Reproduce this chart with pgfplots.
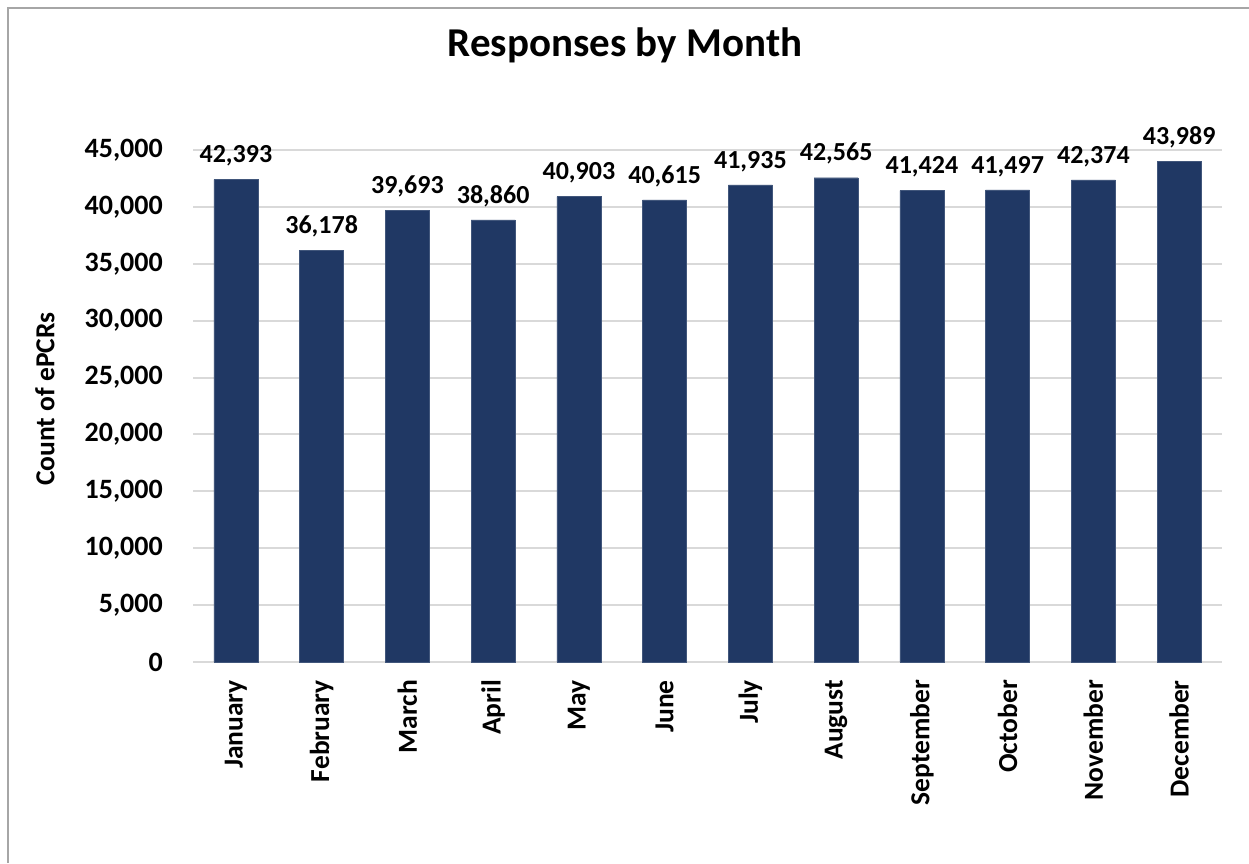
\documentclass[border=0pt]{standalone}
\usepackage{pgfplots}
\pgfplotsset{compat=1.18}
\usepackage{fontspec}
\setmainfont{Carlito}

\definecolor{barblue}{HTML}{203864}
\definecolor{gridgray}{HTML}{D9D9D9}
\definecolor{framegray}{HTML}{A6A6A6}

\begin{document}
\begin{tikzpicture}
  \useasboundingbox (0,0) rectangle (1249pt,863pt);
  % chart frame (only top and left edges visible)
  \draw[framegray, line width=2pt] (8pt,0pt) -- (8pt,855pt) -- (1249pt,855pt);

  \node[anchor=base, font=\bfseries\fontsize{41}{47}\selectfont] at (625pt,806pt) {Responses by Month};
  \node[rotate=90, font=\bfseries\fontsize{27.5}{32}\selectfont] at (45pt,464pt) {Count of ePCRs};

  \begin{axis}[
      at={(193pt,201pt)}, anchor=south west,
      width=1029pt, height=512pt, scale only axis,
      ymin=0, ymax=45000,
      xmin=-0.5, xmax=11.5,
      ytick={0,5000,...,45000},
      scaled y ticks=false,
      xtick={0,...,11},
      xticklabels={January,February,March,April,May,June,July,August,September,October,November,December},
      /pgf/number format/.cd, 1000 sep={,}, assume math mode=true, /pgfplots/.cd,
      axis line style={draw=none},
      major tick length=0pt,
      ymajorgrids,
      grid style={gridgray, line width=2pt},
      ticklabel style={inner sep=0pt},
      yticklabel style={anchor=east, xshift=-30pt, font=\bfseries\fontsize{28}{32}\selectfont},
      xticklabel style={rotate=90, anchor=east, font=\bfseries\fontsize{27.5}{32}\selectfont},
      xticklabel shift=18pt,
      clip=false,
    ]
    \addplot[ybar, bar width=44pt, fill=barblue, draw=barblue!85!white,
      nodes near coords,
      every node near coord/.append style={anchor=south, inner sep=0pt, yshift=13pt,
        font=\bfseries\fontsize{26}{30}\selectfont, text=black}]
      coordinates {
        (0,42393) (1,36178) (2,39693) (3,38860) (4,40903) (5,40615)
        (6,41935) (7,42565) (8,41424) (9,41497) (10,42374) (11,43989)
      };
  \end{axis}
\end{tikzpicture}
\end{document}
